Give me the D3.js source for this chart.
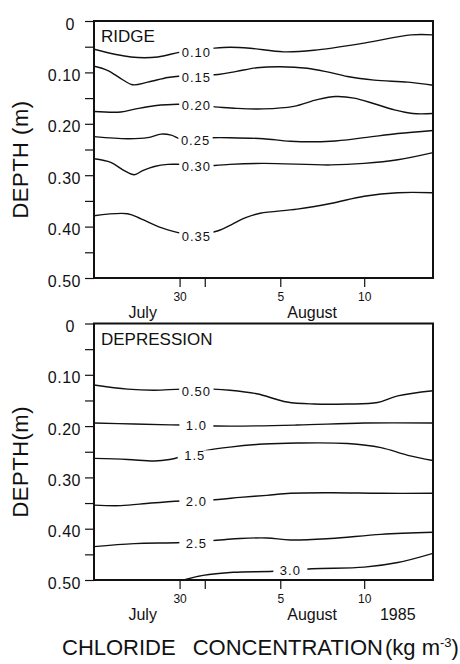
<!DOCTYPE html>
<html>
<head>
<meta charset="utf-8">
<script src="https://cdn.jsdelivr.net/npm/d3@7"></script>
<style>
  body { margin: 0; background: #fff; }
  svg { display: block; font-family: "Liberation Sans", Arial, sans-serif; }
</style>
</head>
<body>
<svg id="chart"></svg>
<script>
// Dimensions
const WIDTH = 460;
const HEIGHT = 664;
const X0 = 94;
const X1 = 433;

// Time axis: day of July (32 = 1 August)
const DAY_DOMAIN = [24.9, 45.1];
const DAY_TICKS = [30, 31.5, 36, 41];
const DAY_TICK_LABELS = ['30', '', '5', '10'];
const MONTH_LABELS = ['July', 'August'];
const MONTH_DAYS = [27.8, 37.9];
const YEAR_LABEL = '1985';
const YEAR_DAY = 43.0;

// Depth axis
const DEPTH_TICKS = [0, 0.05, 0.1, 0.15, 0.2, 0.25, 0.3, 0.35, 0.4, 0.45, 0.5];
const DEPTH_LABEL_VALUES = [0, 0.1, 0.2, 0.3, 0.4, 0.5];
const DEPTH_LABELS = ['0', '0.10', '0.20', '0.30', '0.40', '0.50'];

// Ridge contours [day, depth]
const RIDGE_LEVELS = ['0.10', '0.15', '0.20', '0.25', '0.30', '0.35'];
const RIDGE_LINES = [
  [[24.9, 0.055], [27.1, 0.070], [28.7, 0.070], [30.1, 0.060], [32.0, 0.053], [33.0, 0.051], [34.2, 0.053],
   [36.2, 0.060], [38.0, 0.057], [41.0, 0.043], [43.8, 0.027], [45.1, 0.027]],
  [[24.9, 0.088], [25.7, 0.096], [26.5, 0.112], [27.2, 0.124], [28.1, 0.119], [29.3, 0.110], [30.1, 0.107],
   [32.3, 0.104], [33.4, 0.098], [34.6, 0.091], [36.0, 0.089], [37.6, 0.092], [38.8, 0.099], [40.0, 0.108],
   [41.6, 0.115], [43.6, 0.119], [45.1, 0.125]],
  [[24.9, 0.176], [26.5, 0.177], [27.4, 0.171], [28.5, 0.165], [29.9, 0.162], [32.1, 0.167], [33.4, 0.170],
   [35.0, 0.171], [36.8, 0.166], [38.2, 0.153], [39.3, 0.147], [40.4, 0.150], [41.6, 0.161], [42.8, 0.173],
   [43.9, 0.180], [45.1, 0.180]],
  [[24.9, 0.225], [26.9, 0.229], [28.1, 0.227], [28.9, 0.220], [29.5, 0.222], [30.1, 0.230], [31.9, 0.227],
   [33.0, 0.227], [35.0, 0.229], [36.6, 0.234], [39.0, 0.234], [41.0, 0.227], [43.0, 0.219], [45.1, 0.213]],
  [[24.9, 0.268], [25.9, 0.275], [26.7, 0.291], [27.3, 0.299], [27.8, 0.291], [28.5, 0.283], [29.3, 0.279],
   [30.1, 0.279], [32.1, 0.281], [33.0, 0.279], [35.0, 0.277], [39.0, 0.280], [41.0, 0.277], [43.0, 0.270],
   [45.1, 0.256]],
  [[24.9, 0.379], [26.9, 0.375], [27.7, 0.385], [28.9, 0.402], [30.1, 0.413], [31.3, 0.415], [32.3, 0.408],
   [33.1, 0.396], [33.9, 0.383], [34.8, 0.374], [37.0, 0.366], [39.0, 0.355], [41.0, 0.341], [43.0, 0.334],
   [45.1, 0.334]]
];
const RIDGE_LABEL_POS = [[31.0, 0.060], [31.0, 0.109], [31.0, 0.164], [30.95, 0.232], [31.0, 0.283], [31.0, 0.418]];

// Depression contours [day, depth]
const DEPRESSION_LEVELS = ['0.50', '1.0', '1.5', '2.0', '2.5', '3.0'];
const DEPRESSION_LINES = [
  [[24.9, 0.120], [26.9, 0.128], [28.5, 0.130], [30.1, 0.128], [32.0, 0.128], [33.0, 0.130], [34.6, 0.137],
   [36.4, 0.153], [38.0, 0.157], [40.0, 0.157], [41.8, 0.154], [43.0, 0.141], [45.1, 0.131]],
  [[24.9, 0.194], [27.3, 0.196], [30.1, 0.198], [33.0, 0.200], [37.0, 0.198], [41.0, 0.194], [45.1, 0.194]],
  [[24.9, 0.263], [26.9, 0.265], [28.5, 0.268], [29.4, 0.265], [30.3, 0.258], [31.7, 0.247], [33.0, 0.241],
   [35.0, 0.235], [37.0, 0.233], [40.0, 0.234], [42.0, 0.242], [43.6, 0.257], [45.1, 0.267]],
  [[24.9, 0.354], [26.5, 0.355], [28.3, 0.350], [30.1, 0.346], [32.3, 0.343], [33.6, 0.339], [35.2, 0.335],
   [36.6, 0.331], [39.0, 0.330], [42.0, 0.331], [45.1, 0.331]],
  [[24.9, 0.435], [27.3, 0.429], [30.1, 0.427], [32.4, 0.422], [33.6, 0.419], [35.2, 0.418], [36.6, 0.422],
   [39.0, 0.419], [42.0, 0.411], [45.1, 0.407]],
  [[30.0, 0.502], [31.4, 0.491], [33.2, 0.485], [35.6, 0.483], [37.9, 0.478], [41.0, 0.475], [43.0, 0.466],
   [45.1, 0.448]]
];
const DEPRESSION_LABEL_POS = [[31.0, 0.132], [31.0, 0.198], [30.9, 0.257], [31.0, 0.347], [31.0, 0.429], [36.6, 0.482]];

const panels = [
  { name: 'RIDGE', top: 21, bottom: 278, levels: RIDGE_LEVELS, lines: RIDGE_LINES,
    labelPos: RIDGE_LABEL_POS, depthTitle: 'DEPTH (m)', year: false },
  { name: 'DEPRESSION', top: 323.5, bottom: 580, levels: DEPRESSION_LEVELS, lines: DEPRESSION_LINES,
    labelPos: DEPRESSION_LABEL_POS, depthTitle: 'DEPTH(m)', year: true }
];

const svg = d3.select('#chart')
  .attr('width', WIDTH)
  .attr('height', HEIGHT);

const x = d3.scaleLinear().domain(DAY_DOMAIN).range([X0, X1]);

panels.forEach((p, i) => {
  const y = d3.scaleLinear().domain([0, 0.5]).range([p.top, p.bottom]);
  const g = svg.append('g');

  g.append('clipPath')
    .attr('id', 'clip' + i)
    .append('rect')
    .attr('x', X0).attr('y', p.top)
    .attr('width', X1 - X0).attr('height', p.bottom - p.top);

  // Contour lines
  const line = d3.line()
    .x(d => x(d[0]))
    .y(d => y(d[1]))
    .curve(d3.curveCatmullRom.alpha(0.5));

  g.append('g')
    .attr('clip-path', `url(#clip${i})`)
    .selectAll('path')
    .data(p.lines)
    .enter()
    .append('path')
    .attr('d', line)
    .attr('fill', 'none')
    .attr('stroke', '#111')
    .attr('stroke-width', 1.4);

  // Contour labels with a white gap behind
  const labels = g.append('g')
    .selectAll('g')
    .data(p.levels)
    .enter()
    .append('g')
    .attr('transform', (d, j) => `translate(${x(p.labelPos[j][0])},${y(p.labelPos[j][1])})`);

  labels.append('text')
    .attr('text-anchor', 'middle')
    .attr('dy', '0.36em')
    .attr('font-size', 13)
    .attr('letter-spacing', 1)
    .attr('fill', '#111')
    .text(d => d);

  labels.each(function () {
    const grp = d3.select(this);
    const bb = grp.select('text').node().getBBox();
    const w = Math.max(bb.width + 5, 34);
    grp.insert('rect', 'text')
      .attr('x', -w / 2).attr('y', -5)
      .attr('width', w).attr('height', 10)
      .attr('fill', '#fff');
  });

  // Frame
  g.append('rect')
    .attr('x', X0).attr('y', p.top)
    .attr('width', X1 - X0).attr('height', p.bottom - p.top)
    .attr('fill', 'none')
    .attr('stroke', '#111')
    .attr('stroke-width', 2);

  // Depth axis
  const yAxis = d3.axisLeft(y)
    .tickValues(DEPTH_TICKS)
    .tickSize(9)
    .tickPadding(4)
    .tickFormat(d => {
      const k = DEPTH_LABEL_VALUES.findIndex(v => Math.abs(v - d) < 1e-9);
      return k >= 0 ? DEPTH_LABELS[k] : '';
    });

  const ya = g.append('g')
    .attr('transform', `translate(${X0},0)`)
    .call(yAxis)
    .attr('font-size', 16)
    .attr('font-family', null);
  ya.select('.domain').remove();
  ya.selectAll('line').attr('stroke', '#111').attr('stroke-width', 1.2);
  ya.selectAll('text')
    .attr('fill', '#111')
    .attr('dy', '0.5em')
    .attr('letter-spacing', 0.5)
    .attr('dx', d => d === 0 ? -6 : 0);

  // Time axis
  const xAxis = d3.axisBottom(x)
    .tickValues(DAY_TICKS)
    .tickSize(9)
    .tickPadding(5)
    .tickFormat((d, k) => DAY_TICK_LABELS[k]);

  const xa = g.append('g')
    .attr('transform', `translate(0,${p.bottom})`)
    .call(xAxis)
    .attr('font-size', 12)
    .attr('font-family', null);
  xa.select('.domain').remove();
  xa.selectAll('line').attr('stroke', '#111').attr('stroke-width', 1.2);
  xa.selectAll('text').attr('fill', '#111');

  g.selectAll('.month')
    .data(MONTH_LABELS)
    .enter()
    .append('text')
    .attr('class', 'month')
    .attr('x', (d, k) => x(MONTH_DAYS[k]))
    .attr('y', p.bottom + 40)
    .attr('text-anchor', 'middle')
    .attr('font-size', 16)
    .attr('fill', '#111')
    .text(d => d);

  if (p.year) {
    g.append('text')
      .attr('x', x(YEAR_DAY))
      .attr('y', p.bottom + 40)
      .attr('text-anchor', 'middle')
      .attr('font-size', 16)
      .attr('fill', '#111')
      .text(YEAR_LABEL);
  }

  // Panel name
  g.append('text')
    .attr('x', X0 + 7)
    .attr('y', p.top + 21)
    .attr('font-size', 17)
    .attr('fill', '#111')
    .text(p.name);

  // Depth title
  g.append('text')
    .attr('transform', `translate(28,${(p.top + p.bottom) / 2 + 10}) rotate(-90)`)
    .attr('text-anchor', 'middle')
    .attr('font-size', 22)
    .attr('letter-spacing', 0.5)
    .attr('fill', '#111')
    .text(p.depthTitle);
});

// Bottom title
const title = svg.append('text')
  .attr('x', 62)
  .attr('y', 655)
  .attr('font-size', 22)
  .attr('fill', '#111');
title.append('tspan').text('CHLORIDE');
title.append('tspan').attr('dx', 17).text('CONCENTRATION');
title.append('tspan').attr('dx', 2).text('(kg m');
title.append('tspan').attr('dy', -8).attr('font-size', 13).text('-3');
title.append('tspan').attr('dy', 8).text(')');
</script>
</body>
</html>
